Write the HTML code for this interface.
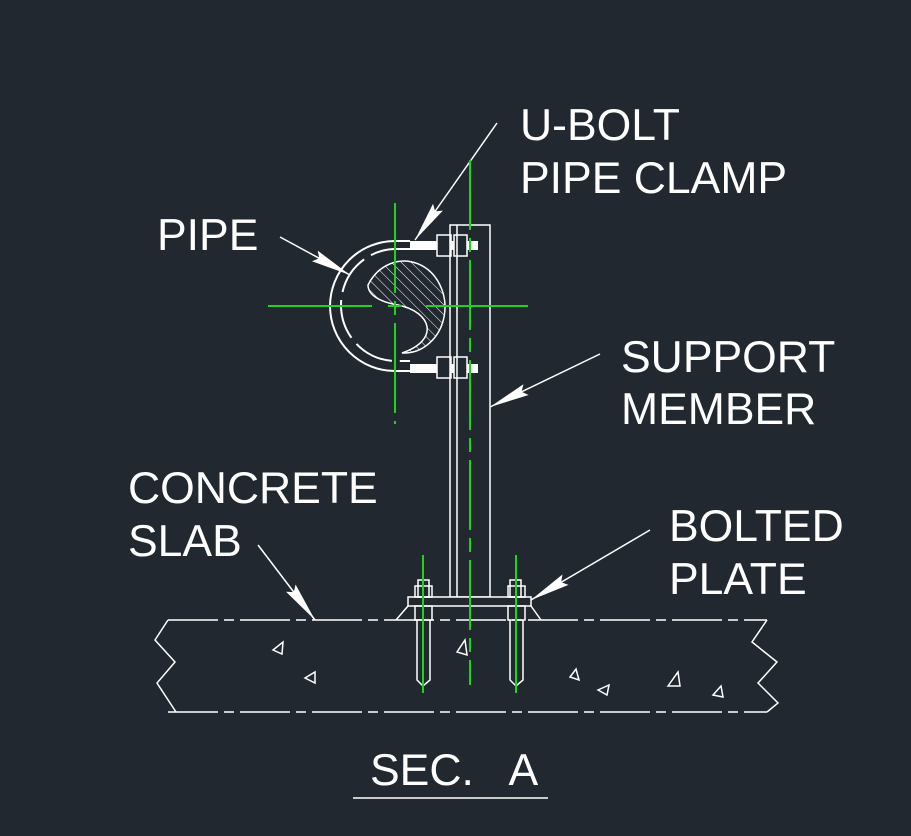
<!DOCTYPE html>
<html><head><style>
html,body{margin:0;padding:0;background:#212830;}
svg{display:block}
text{font-family:"Liberation Sans",sans-serif;font-size:44.5px;fill:#fff;white-space:pre;}
</style></head><body>
<svg width="911" height="836" viewBox="0 0 911 836" xmlns="http://www.w3.org/2000/svg">
<defs>
<marker id="ah" markerWidth="40" markerHeight="14" refX="40" refY="7" orient="auto" markerUnits="userSpaceOnUse">
<path d="M0,1 L40,7 L0,13 L5,7 Z" fill="#fff"/>
</marker>
<pattern id="hat" width="7" height="7" patternUnits="userSpaceOnUse" patternTransform="rotate(-45)">
<line x1="0" y1="0" x2="0" y2="7" stroke="#fff" stroke-width="1"/>
</pattern>
</defs>
<rect width="911" height="836" fill="#212830"/>
<g fill="#fff" stroke="none">
<text x="520" y="140">U-BOLT</text>
<text x="520" y="193">PIPE CLAMP</text>
<text x="157" y="250">PIPE</text>
<text x="621" y="372">SUPPORT</text>
<text x="621" y="424">MEMBER</text>
<text x="128" y="503">CONCRETE</text>
<text x="128" y="556">SLAB</text>
<text x="669" y="541">BOLTED</text>
<text x="669" y="594">PLATE</text>
<text x="370" y="785" xml:space="preserve">SEC.   A</text>
</g>
<line x1="353" y1="798" x2="548" y2="798" stroke="#fff" stroke-width="1.5"/>
<!-- leaders -->
<g stroke="#fff" stroke-width="1.5" fill="none">
<line x1="497" y1="123" x2="415" y2="240" marker-end="url(#ah)"/>
<line x1="280" y1="237" x2="350" y2="275" marker-end="url(#ah)"/>
<line x1="600" y1="354" x2="490" y2="407" marker-end="url(#ah)"/>
<line x1="258" y1="545" x2="315" y2="620" marker-end="url(#ah)"/>
<line x1="650" y1="530" x2="531" y2="600" marker-end="url(#ah)"/>
</g>
<!-- pipe hatched S -->
<path d="M368,285 A41,46 0 1 1 402,353 C440,340 432,312 398,305 C380,302 368,295 368,285 Z" fill="url(#hat)" stroke="#fff" stroke-width="1.5"/>
<!-- U bolt -->
<g stroke="#fff" stroke-width="2" fill="none">
<path d="M410,241 L395,241 A65,65 0 0 0 395,371 L410,371"/>
<path d="M410,249 L396,249 A55,56 0 0 0 396,361 L410,361" stroke-dasharray="40,8"/>
</g>
<rect x="410" y="241" width="68" height="9" fill="#fff"/>
<rect x="410" y="364" width="68" height="9" fill="#fff"/>
<g stroke="#fff" stroke-width="1.5" fill="#212830">
<rect x="437" y="235" width="14" height="21"/>
<rect x="454" y="235" width="13" height="21"/>
<rect x="437" y="357" width="14" height="21"/>
<rect x="454" y="357" width="13" height="21"/>
</g>
<!-- support member -->
<g stroke="#fff" stroke-width="1.5" fill="none">
<rect x="450" y="225" width="40" height="372"/>
<line x1="457" y1="225" x2="457" y2="597"/>
</g>
<!-- slab -->
<g stroke="#fff" stroke-width="1.5" fill="none">
<line x1="168" y1="620" x2="767" y2="620" stroke-dasharray="50,6,10,6"/>
<line x1="168" y1="712" x2="767" y2="712" stroke-dasharray="50,6,10,6"/>
<polyline points="168,620 155,640 175,662 157,683 176,712"/>
<polyline points="767,620 752,642 777,662 758,683 778,703 767,712"/>
<path d="M273,650 l10,-8 l-1,12 z M305,678 l10,-6 l0,11 z M457,652 l8,-12 l2,15 z M570,677 l6,-8 l3,11 z M598,690 l11,-5 l-2,10 z M668,686 l10,-14 l2,14 z M713,695 l8,-9 l2,11 z"/>
<line x1="396" y1="620" x2="408" y2="606"/><line x1="541" y1="620" x2="531" y2="606"/>
</g>
<!-- base plate -->
<rect x="408" y="597" width="123" height="9" fill="#212830" stroke="#fff" stroke-width="1.5"/>
<g stroke="#fff" stroke-width="1.5" fill="none">
<rect x="418" y="580" width="11" height="17"/><rect x="415" y="586" width="17" height="11"/>
<rect x="415" y="606" width="17" height="14"/>
<path d="M417,620 L417,680 L423,686 L430,680 L430,620"/>
<rect x="510" y="580" width="11" height="17"/><rect x="508" y="586" width="17" height="11"/>
<rect x="508" y="606" width="17" height="14"/>
<path d="M510,620 L510,680 L516,686 L523,680 L523,620"/>
</g>
<!-- green center lines -->
<g stroke="#1fd21f" stroke-width="2" fill="none">
<line x1="470" y1="160" x2="470" y2="685" stroke-dasharray="70,8,14,8"/>
<line x1="395" y1="203" x2="395" y2="424" stroke-dasharray="90,8,14,8"/>
<line x1="268" y1="306" x2="372" y2="306"/>
<line x1="388" y1="306" x2="402" y2="306"/>
<line x1="426" y1="306" x2="528" y2="306"/>
<line x1="423" y1="555" x2="423" y2="693"/>
<line x1="516" y1="555" x2="516" y2="693"/>
</g>
</svg>
</body></html>
